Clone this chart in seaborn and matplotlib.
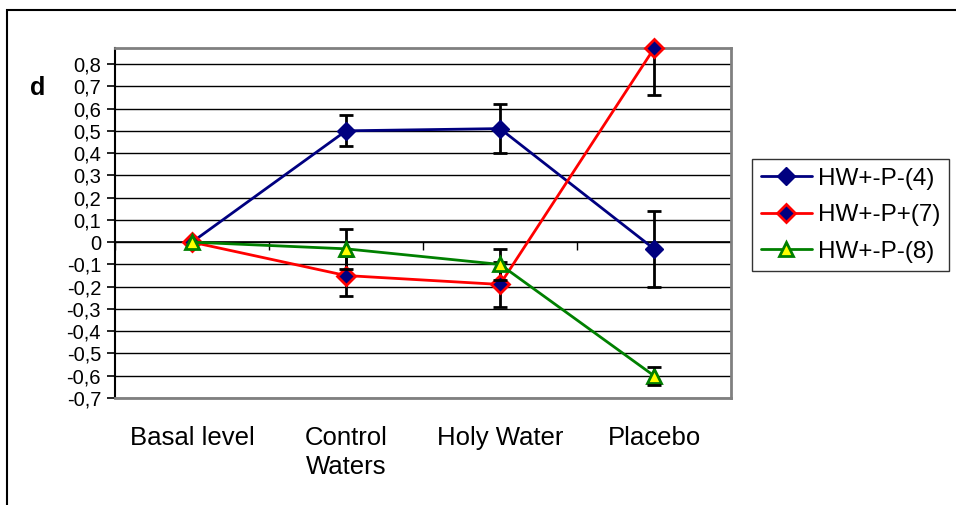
import numpy as np
import pandas as pd
import seaborn as sns
import matplotlib
matplotlib.use("Agg")
import matplotlib.pyplot as plt
from matplotlib.patches import Rectangle

# Effect size d per condition for three groups, with error half-widths
categories = ["Basal level", "Control\nWaters", "Holy Water", "Placebo"]
series_names = ["HW+-P-(4)", "HW+-P+(7)", "HW+-P-(8)"]
d_g4 = [0.0, 0.50, 0.51, -0.03]
err_g4 = [0.0, 0.07, 0.11, 0.17]
d_g7 = [0.0, -0.15, -0.19, 0.87]
err_g7 = [0.0, 0.09, 0.10, 0.21]
d_g8 = [0.0, -0.03, -0.10, -0.60]
err_g8 = [0.0, 0.09, 0.07, 0.04]
y_ticks = [0.8, 0.7, 0.6, 0.5, 0.4, 0.3, 0.2, 0.1, 0.0,
           -0.1, -0.2, -0.3, -0.4, -0.5, -0.6, -0.7]

sns.set_style("white")
plt.rcParams["font.family"] = ["Liberation Sans", "DejaVu Sans"]
plt.rcParams["text.color"] = "black"
plt.rcParams["xtick.color"] = "black"
plt.rcParams["ytick.color"] = "black"
plt.rcParams["axes.labelcolor"] = "black"

fig = plt.figure(figsize=(9.56, 5.05), dpi=100)
ax = fig.add_axes([115 / 956, 1 - 398 / 505, (731 - 115) / 956, (398 - 48) / 505])

styles = [
    dict(color="#000080", marker="D", markersize=9.5, markerfacecolor="#000080",
         markeredgecolor="#000080", markeredgewidth=1),
    dict(color="#FF0000", marker="D", markersize=9.5, markerfacecolor="#000080",
         markeredgecolor="#FF0000", markeredgewidth=2),
    dict(color="#008000", marker="^", markersize=9.5, markerfacecolor="#FFFF00",
         markeredgecolor="#008000", markeredgewidth=2),
]

x_pos = np.arange(len(categories))
for name, vals, errs, st in zip(series_names, [d_g4, d_g7, d_g8],
                                [err_g4, err_g7, err_g8], styles):
    df = pd.DataFrame({"x": x_pos, "d": vals})
    sns.lineplot(data=df, x="x", y="d", ax=ax, label=name, linewidth=2,
                 zorder=3, clip_on=False, **st)
    mask = np.array(errs) > 0
    ax.errorbar(x_pos[mask], np.array(vals)[mask], yerr=np.array(errs)[mask],
                fmt="none", ecolor="black", elinewidth=2, capsize=5,
                capthick=2, zorder=2.5)

# markers on top of error bars
for line in ax.get_lines():
    line.set_zorder(3)

ax.set_xlim(-0.5, 3.5)
ax.set_ylim(-0.7, 0.872)
ax.set_yticks(y_ticks)
ax.set_yticklabels([("%g" % v).replace(".", ",") for v in y_ticks], fontsize=14.5)
ax.yaxis.grid(True, color="black", linewidth=1)
ax.set_axisbelow(True)
ax.tick_params(axis="y", direction="out", length=6, width=1.2, color="black",
               pad=4, left=True)

ax.set_xticks(x_pos)
ax.set_xticklabels(categories, fontsize=18.5, linespacing=1.25, va="top")
ax.tick_params(axis="x", length=0, pad=20)
ax.set_xlabel("")
ax.set_ylabel("")

# category-axis tick marks along the zero line
ax.vlines([-0.5, 0.5, 1.5, 2.5, 3.5], -0.036, 0.0, color="black",
          linewidth=1, zorder=2)
ax.axhline(0, color="black", linewidth=1.2, zorder=2)

for side in ["top", "right", "bottom"]:
    ax.spines[side].set_color("#808080")
    ax.spines[side].set_linewidth(2)
ax.spines["left"].set_color("black")
ax.spines["left"].set_linewidth(1.5)

fig.text(38 / 956, 1 - 88 / 505, "d", fontsize=18, fontweight="bold",
         ha="center", va="center")

leg = ax.legend(loc="upper left", bbox_to_anchor=(752 / 956, 1 - 159 / 505),
                bbox_transform=fig.transFigure, borderaxespad=0, fontsize=17.5,
                frameon=True, fancybox=False, handlelength=2.1,
                handletextpad=0.25, labelspacing=0.6, borderpad=0.35)
leg.get_frame().set_edgecolor("black")
leg.get_frame().set_linewidth(1)

# outer chart frame
fig.add_artist(Rectangle((7 / 956, -0.2), 1.2, 1.2 - 10 / 505,
                         transform=fig.transFigure, fill=False,
                         edgecolor="black", linewidth=1.5))

fig.savefig("out.png", dpi=100)
